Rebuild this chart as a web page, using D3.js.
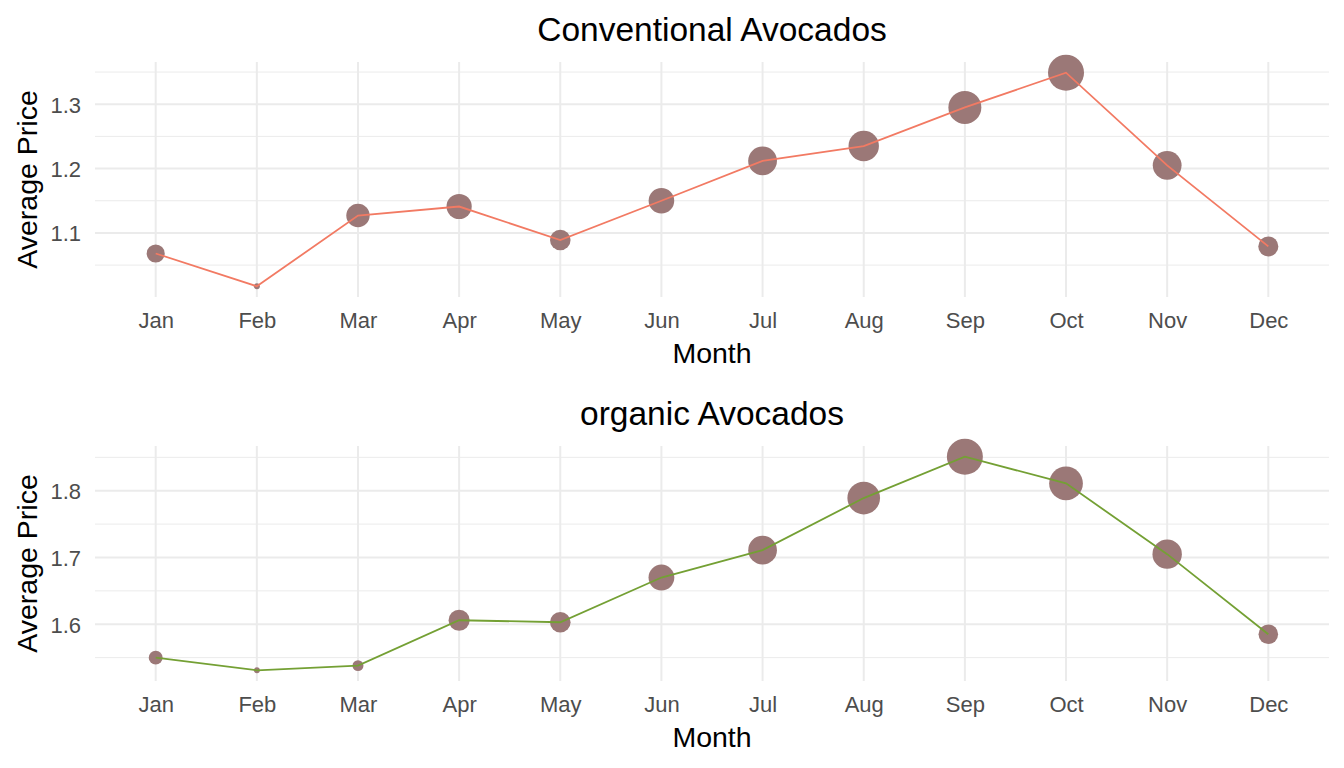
<!DOCTYPE html>
<html>
<head>
<meta charset="utf-8">
<script src="https://cdn.jsdelivr.net/npm/d3@7/dist/d3.min.js"></script>
<style>
  body { margin: 0; background: #fff; }
  svg { display: block; font-family: "Liberation Sans", Arial, sans-serif; }
</style>
</head>
<body>
<div id="container"></div>
<script>
const months = ["Jan", "Feb", "Mar", "Apr", "May", "Jun", "Jul", "Aug", "Sep", "Oct", "Nov", "Dec"];

// conventional
const convPrice = [1.068, 1.017, 1.127, 1.141, 1.089, 1.150, 1.212, 1.235, 1.295, 1.349, 1.205, 1.079];
const convVolume = [39.2, 30.0, 46.2, 49.0, 42.3, 49.7, 55.2, 58.2, 63.4, 70.0, 55.2, 41.6];
const convTicks = [1.1, 1.2, 1.3];

// organic
const orgPrice = [1.550, 1.531, 1.538, 1.606, 1.603, 1.670, 1.711, 1.789, 1.851, 1.811, 1.705, 1.585];
const orgVolume = [1.15, 1.00, 1.08, 1.39, 1.37, 1.60, 1.75, 1.98, 2.20, 2.05, 1.79, 1.33];
const orgTicks = [1.6, 1.7, 1.8];

const width = 1344;
const height = 768;
const left = 95, right = 1329;
const panelH = 235;
const pointColor = "#9b7877";
const gridColor = "#ebebeb";

const svg = d3.select("#container")
  .append("svg")
  .attr("width", width)
  .attr("height", height);

function drawPanel(top, title, price, volume, ticks, lineColor) {
  const g = svg.append("g");
  const bottom = top + panelH;

  const x = d3.scalePoint()
    .domain(months)
    .range([left, right])
    .padding(0.6);

  // ggplot style 5% expansion
  const [lo, hi] = d3.extent(price);
  const pad = (hi - lo) * 0.05;
  const y = d3.scaleLinear()
    .domain([lo - pad, hi + pad])
    .range([bottom, top]);

  // area linear in volume, like scale_size
  const vExt = d3.extent(volume);
  const area = d3.scaleLinear().domain(vExt).range([3 * 3, 18 * 18]);
  const r = v => Math.sqrt(area(v));

  // minor grid
  const minor = [];
  ticks.forEach(t => { minor.push(t - 0.05); minor.push(t + 0.05); });
  const minorVals = Array.from(new Set(minor.map(m => +m.toFixed(3))))
    .filter(m => m >= y.domain()[0] && m <= y.domain()[1]);

  g.selectAll(".minor")
    .data(minorVals)
    .join("line")
    .attr("x1", left).attr("x2", right)
    .attr("y1", d => y(d)).attr("y2", d => y(d))
    .attr("stroke", gridColor)
    .attr("stroke-width", 1);

  g.selectAll(".major")
    .data(ticks)
    .join("line")
    .attr("x1", left).attr("x2", right)
    .attr("y1", d => y(d)).attr("y2", d => y(d))
    .attr("stroke", gridColor)
    .attr("stroke-width", 2);

  g.selectAll(".vgrid")
    .data(months)
    .join("line")
    .attr("x1", d => x(d)).attr("x2", d => x(d))
    .attr("y1", top).attr("y2", bottom)
    .attr("stroke", gridColor)
    .attr("stroke-width", 2);

  // axes (no lines, just labels)
  const xAxis = g.append("g")
    .attr("transform", `translate(0,${bottom})`)
    .call(d3.axisBottom(x).tickSize(0).tickPadding(0));
  xAxis.select(".domain").remove();
  xAxis.selectAll("text")
    .attr("y", 31)
    .attr("dy", null)
    .attr("font-size", 22)
    .attr("font-family", "Liberation Sans, Arial, sans-serif")
    .attr("fill", "#4d4d4d");

  const yAxis = g.append("g")
    .attr("transform", `translate(${left},0)`)
    .call(d3.axisLeft(y).tickValues(ticks).tickFormat(d3.format(".1f")).tickSize(0).tickPadding(14));
  yAxis.select(".domain").remove();
  yAxis.selectAll("text")
    .attr("dy", "0.36em")
    .attr("font-size", 22)
    .attr("font-family", "Liberation Sans, Arial, sans-serif")
    .attr("fill", "#4d4d4d");

  // points
  g.selectAll(".pt")
    .data(months)
    .join("circle")
    .attr("cx", d => x(d))
    .attr("cy", (d, i) => y(price[i]))
    .attr("r", (d, i) => r(volume[i]))
    .attr("fill", pointColor);

  // line on top
  const line = d3.line()
    .x((d, i) => x(months[i]))
    .y(d => y(d));
  g.append("path")
    .datum(price)
    .attr("d", line)
    .attr("fill", "none")
    .attr("stroke", lineColor)
    .attr("stroke-width", 1.8);

  // titles
  g.append("text")
    .attr("x", (left + right) / 2)
    .attr("y", top - 21)
    .attr("text-anchor", "middle")
    .attr("font-size", 33.5)
    .attr("fill", "#000")
    .text(title);

  g.append("text")
    .attr("x", (left + right) / 2)
    .attr("y", bottom + 66)
    .attr("text-anchor", "middle")
    .attr("font-size", 28.5)
    .attr("fill", "#000")
    .text("Month");

  g.append("text")
    .attr("transform", `translate(37,${(top + bottom) / 2}) rotate(-90)`)
    .attr("text-anchor", "middle")
    .attr("font-size", 28.5)
    .attr("fill", "#000")
    .text("Average Price");
}

drawPanel(62, "Conventional Avocados", convPrice, convVolume, convTicks, "#f27a63");
drawPanel(446, "organic Avocados", orgPrice, orgVolume, orgTicks, "#74a034");
</script>
</body>
</html>
